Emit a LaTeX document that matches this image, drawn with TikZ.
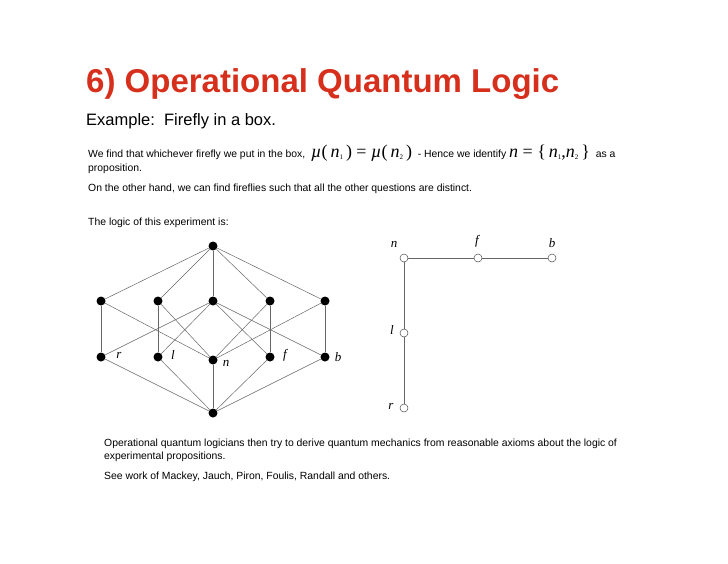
\documentclass[tikz,border=0pt]{standalone}
\usepackage{fontspec}
\setmainfont{Liberation Sans}
\newfontfamily\serifm{Liberation Serif}
\definecolor{titlered}{RGB}{214,48,28}
\newcommand{\mi}[1]{{\serifm\itshape #1}}
\newcommand{\sub}[1]{\raisebox{-2pt}{\serifm\fontsize{7}{7}\selectfont #1}}
\begin{document}
\begin{tikzpicture}[x=1pt,y=-1pt,
  dot/.style={circle,fill=black,inner sep=0pt,minimum size=9pt},
  odot/.style={circle,draw=black!70,fill=white,inner sep=0pt,minimum size=8pt,line width=0.5pt},
  edge/.style={draw=black!60,line width=0.5pt},
  lab/.style={font=\serifm\itshape\fontsize{13}{13}\selectfont},
  txt/.style={anchor=west,inner sep=0pt,font=\fontsize{10.4}{12}\selectfont}]
\useasboundingbox (0,0) rectangle (728,563);
\node[anchor=west,inner sep=0pt,text=titlered,font=\bfseries\fontsize{33}{33}\selectfont] (title) at (86,84) {6) Operational Quantum Logic};
\node[anchor=west,inner sep=0pt,font=\fontsize{16.5}{16.5}\selectfont] (ex) at (86,121) {Example:\ \ Firefly in a box.};
\node[txt] (t1) at (88,153) {We find that whichever firefly we put in the box, \ {\fontsize{18}{18}\selectfont\mi{µ}\serifm(\,\mi{n}\sub{1}\,)\ =\ \mi{µ}\serifm(\,\mi{n}\sub{2}\,)}\ \ - Hence we identify {\fontsize{18}{18}\selectfont\mi{n}\serifm\ =\ \{\,\mi{n}\sub{1},\mi{n}\sub{2}\,\}}\ \ as a};
\node[txt] (t2) at (88,169) {proposition.};
\node[txt] (t3) at (88,189) {On the other hand, we can find fireflies such that all the other questions are distinct.};
\node[txt] (t4) at (88,223) {The logic of this experiment is:};
% lattice
\node[dot] (top) at (213,246) {};
\node[dot] (bot) at (213,413) {};
\foreach \i/\x in {1/101,2/158,3/213,4/270,5/325}{\node[dot] (c\i) at (\x,301) {};}
\node[dot] (r) at (101,357) {};
\node[dot] (l) at (158,357) {};
\node[dot] (n) at (213,360) {};
\node[dot] (f) at (270,357) {};
\node[dot] (b) at (325,357) {};
\foreach \i in {1,...,5}{\draw[edge] (top) -- (c\i);}
\foreach \a in {r,l,n,f,b}{\draw[edge] (bot) -- (\a);}
\draw[edge] (c1) -- (r); \draw[edge] (c1) -- (n);
\draw[edge] (c2) -- (l); \draw[edge] (c2) -- (n);
\draw[edge] (c3) -- (r); \draw[edge] (c3) -- (l); \draw[edge] (c3) -- (f); \draw[edge] (c3) -- (b);
\draw[edge] (c4) -- (f); \draw[edge] (c4) -- (n);
\draw[edge] (c5) -- (b); \draw[edge] (c5) -- (n);
\node[lab] (lr) at (119,355) {r};
\node[lab] (ll) at (173,355) {l};
\node[lab] (ln) at (226,363) {n};
\node[lab] (lf) at (285,355) {f};
\node[lab] (lb) at (338,357) {b};
% chain
\node[odot] (on) at (404,258) {};
\node[odot] (of) at (478,258) {};
\node[odot] (ob) at (552,258) {};
\node[odot] (ol) at (404,333) {};
\node[odot] (or) at (404,408) {};
\draw[edge] (on) -- (of) -- (ob);
\draw[edge] (on) -- (ol) -- (or);
\node[lab] at (394,244) {n};
\node[lab] at (477,241) {f};
\node[lab] at (552,243) {b};
\node[lab] at (392,330) {l};
\node[lab] at (391,406) {r};
\node[txt] (t5) at (104,444) {Operational quantum logicians then try to derive quantum mechanics from reasonable axioms about the logic of};
\node[txt] (t6) at (104,457) {experimental propositions.};
\node[txt] (t7) at (104,477) {See work of Mackey, Jauch, Piron, Foulis, Randall and others.};
\end{tikzpicture}
\end{document}
